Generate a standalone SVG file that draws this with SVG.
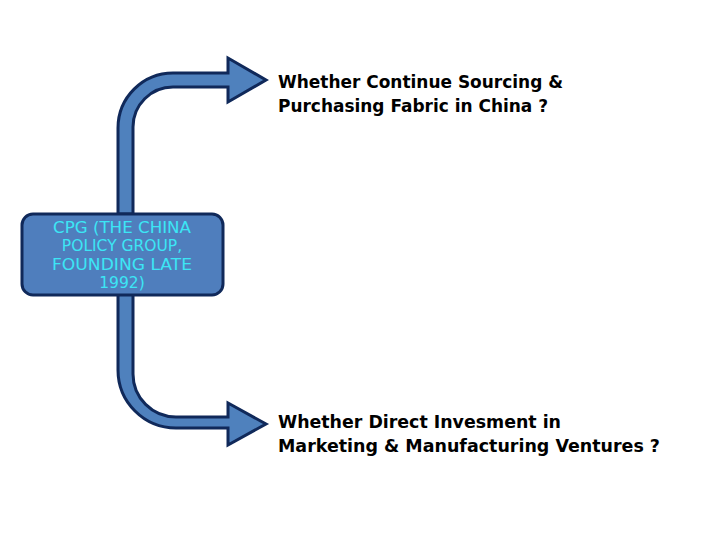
<svg xmlns="http://www.w3.org/2000/svg" width="720" height="540" viewBox="0 0 720 540">
<style>
.arrow{fill:#4F81BD;stroke:#10295A;stroke-width:3;stroke-linejoin:miter}
.node{fill:#4F7EBD;stroke:#10295A;stroke-width:3}
.ntext{font-family:"DejaVu Sans",sans-serif;font-size:15.5px;fill:#3CE6F5;text-anchor:middle}
.q{font-family:"DejaVu Sans",sans-serif;font-size:17px;font-weight:bold;fill:#000}
</style>
<rect width="720" height="540" fill="#fff"/>
<g id="connectors">
<path class="arrow" d="M118,214 L118,128 A55,55 0 0 1 173,73 L228,73 L228,58 L266,80 L228,102 L228,87 L173,87 A40,40 0 0 0 133,127 L133,214 Z"/>
<path class="arrow" d="M118,294 L118,370 A58,58 0 0 0 176,428 L228,428 L228,445 L266,424 L228,403 L228,417 L176,417 A43,43 0 0 1 133,374 L133,294 Z"/>
</g>
<g id="cpg">
<rect class="node" x="22" y="214" width="201" height="81" rx="11"/>
<text class="ntext" x="122" y="233" textLength="138" lengthAdjust="spacingAndGlyphs">CPG (THE CHINA</text>
<text class="ntext" x="122" y="251">POLICY GROUP,</text>
<text class="ntext" x="122" y="270" textLength="140" lengthAdjust="spacingAndGlyphs">FOUNDING LATE</text>
<text class="ntext" x="122" y="288">1992)</text>
</g>
<g id="q1">
<text class="q" x="278" y="88" textLength="285" lengthAdjust="spacingAndGlyphs">Whether Continue Sourcing &amp;</text>
<text class="q" x="278" y="112" textLength="270" lengthAdjust="spacingAndGlyphs">Purchasing Fabric in China ?</text>
</g>
<g id="q2">
<text class="q" x="278" y="428" textLength="283" lengthAdjust="spacingAndGlyphs">Whether Direct Invesment in</text>
<text class="q" x="278" y="452" textLength="382" lengthAdjust="spacingAndGlyphs">Marketing &amp; Manufacturing Ventures ?</text>
</g>
</svg>
